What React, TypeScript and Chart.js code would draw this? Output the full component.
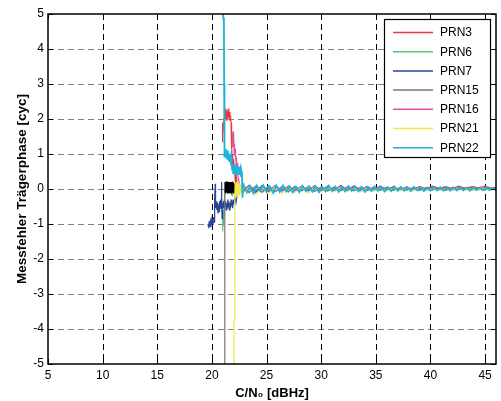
import React, { useEffect, useRef } from "react";
import { Chart, registerables } from "chart.js";

Chart.register(...registerables);

const FONT = "'Liberation Sans', Arial, Helvetica, sans-serif";

const X_MIN = 5;
const X_MAX = 46;
const Y_MIN = -5;
const Y_MAX = 5;
const X_TICKS = [5, 10, 15, 20, 25, 30, 35, 40, 45];
const Y_TICKS = [-5, -4, -3, -2, -1, 0, 1, 2, 3, 4, 5];

const SERIES_NAMES = ["PRN3", "PRN6", "PRN7", "PRN15", "PRN16", "PRN21", "PRN22"];
const SERIES_COLORS = ["#e8393f", "#5cc27f", "#2a4699", "#777777", "#e2509f", "#f2e64a", "#1cb4da"];
const SERIES_WIDTHS = [1.2, 1.2, 1.2, 1.2, 1.2, 1.2, 1.8];

// ---- low C/N0 part of each trace ----
const PRN3_X = [20.93, 20.95, 20.97, 20.99, 21.01, 21.03, 21.1, 21.18, 21.22, 21.26,
  21.3, 21.34, 21.38, 21.42, 21.46, 21.5, 21.55, 21.6, 21.65, 21.7,
  21.75, 21.8, 21.84, 21.88, 21.92, 21.96, 22.0, 22.04, 22.08, 22.12,
  22.16, 22.2, 22.25, 22.3, 22.4, 22.5, 22.6];
const PRN3_Y = [1.35, 1.9, 1.4, 1.85, 1.5, 1.7, 1.95, 2.15, 2.0, 2.3,
  2.05, 2.25, 1.95, 2.2, 2.0, 2.3, 2.05, 2.2, 1.95, 2.1,
  1.9, 1.2, 1.0, 0.7, 0.95, 0.6, 0.85, 0.55, 0.7, 0.3,
  0.5, 0.15, 0.3, 0.05, 0.12, -0.05, 0.08];

const PRN6_X = [20.95, 20.97, 20.99, 21.01, 21.03, 21.05, 21.07, 21.09, 21.11, 21.13,
  21.16, 21.2, 21.25, 21.3, 21.4, 21.5, 21.6, 21.7, 21.8, 21.9,
  22.0, 22.1, 22.2, 22.3, 22.4, 22.5, 22.6];
const PRN6_Y = [-1.2, -0.95, -1.15, -0.85, -1.05, -0.75, -0.9, -0.6, -0.75, -0.45,
  -0.3, -0.1, 0.05, -0.05, 0.08, -0.06, 0.1, -0.08, 0.05, -0.1,
  0.07, -0.05, 0.09, -0.07, 0.06, -0.08, 0.05];

const PRN7_X = [19.65, 19.7, 19.75, 19.8, 19.85, 19.9, 19.95, 20.0, 20.05, 20.1,
  20.15, 20.2, 20.22, 20.25, 20.28, 20.3, 20.32, 20.35, 20.4, 20.45,
  20.5, 20.55, 20.6, 20.65, 20.7, 20.75, 20.8, 20.85, 20.88, 20.9,
  20.93, 20.96, 21.0, 21.05, 21.1, 21.15, 21.2, 21.25, 21.3, 21.35,
  21.4, 21.45, 21.5, 21.55, 21.6, 21.65, 21.7, 21.75, 21.8, 21.85,
  21.9, 21.95, 22.0, 22.1, 22.2, 22.3, 22.4, 22.5, 22.6];
const PRN7_Y = [-1.0, -1.12, -0.92, -1.08, -0.95, -1.1, -0.9, -1.02, -0.85, -1.0,
  -0.8, -0.95, -0.5, -0.7, -0.3, 0.15, -0.4, -0.55, -0.35, -0.6,
  -0.4, -0.7, -0.45, -0.65, -0.35, -0.55, -0.3, -0.5, 0.2, -0.2,
  -0.85, -0.4, -0.6, -0.35, -0.55, -0.3, -0.5, -0.35, -0.6, -0.4,
  -0.55, -0.3, -0.5, -0.35, -0.6, -0.4, -0.55, -0.3, -0.5, -0.35,
  -0.55, -0.3, -0.45, -0.25, -0.4, -0.2, 0.05, -0.1, 0.06];

const PRN15_X = [21.17, 21.17, 21.19,
  21.2, 21.23, 21.26, 21.29, 21.32, 21.35, 21.38, 21.41, 21.44, 21.47,
  21.5, 21.53, 21.56, 21.59, 21.62, 21.65, 21.68, 21.71, 21.74, 21.77,
  21.8, 21.83, 21.86, 21.89, 21.92, 21.95, 21.98, 22.01, 22.04, 22.07,
  22.1, 22.13, 22.16, 22.19,
  22.3, 22.45, 22.6];
const PRN15_Y = [-5.5, -1.0, -0.1,
  0.2, -0.1, 0.18, -0.12, 0.22, -0.08, 0.19, -0.11, 0.2, -0.1,
  0.17, -0.12, 0.21, -0.09, 0.18, -0.1, 0.2, -0.11, 0.19, -0.08,
  0.2, -0.12, 0.17, -0.1, 0.21, -0.09, 0.18, -0.11, 0.15, -0.08,
  0.12, -0.1, 0.1, -0.05,
  0.08, -0.06, 0.05];

const PRN16_X = [21.85, 21.88, 21.91, 21.94, 21.97, 22.0, 22.03, 22.06, 22.09, 22.12,
  22.15, 22.18, 22.21, 22.24, 22.27, 22.3, 22.34, 22.38, 22.42, 22.46,
  22.5, 22.55, 22.6];
const PRN16_Y = [1.2, 1.6, 1.3, 1.65, 1.35, 1.55, 1.1, 1.3, 0.95, 1.15,
  0.85, 1.0, 0.8, 0.9, 0.6, 0.75, 0.45, 0.55, 0.25, 0.3,
  0.05, 0.1, -0.05];

const PRN21_X = [22.01, 22.01, 22.1, 22.1,
  22.12, 22.15, 22.18, 22.21, 22.24, 22.27, 22.3, 22.33, 22.36, 22.39,
  22.42, 22.45, 22.48, 22.51, 22.54, 22.57, 22.6, 22.63, 22.66, 22.69, 22.72];
const PRN21_Y = [-5.5, -3.8, -3.75, -0.2,
  0.18, -0.2, 0.15, -0.22, 0.2, -0.18, 0.16, -0.2, 0.12, -0.16,
  0.18, -0.14, 0.15, -0.18, 0.1, -0.15, 0.12, -0.1, 0.08, -0.12, 0.05];

const PRN22_X = [20.96, 20.98, 21.05, 21.1, 21.12, 21.13, 21.15, 21.18, 21.22, 21.26,
  21.3, 21.34, 21.38, 21.42, 21.46, 21.5, 21.55, 21.6, 21.65, 21.7,
  21.75, 21.8, 21.85, 21.9, 21.95, 22.0, 22.05, 22.1, 22.15, 22.2,
  22.25, 22.3, 22.35, 22.4, 22.45, 22.5, 22.55, 22.6, 22.65, 22.7,
  22.75, 22.8, 22.85];
const PRN22_Y = [5.4, 5.0, 4.9, 4.75, 3.0, 2.0, 1.3, 0.9, 1.15, 0.9,
  1.1, 0.85, 1.05, 0.9, 1.1, 0.85, 1.0, 0.8, 1.0, 0.85,
  0.95, 0.7, 0.55, 0.7, 0.45, 0.65, 0.5, 0.7, 0.45, 0.6,
  0.4, 0.55, 0.45, 0.65, 0.4, 0.6, 0.45, 0.55, 0.35, 0.5,
  0.4, -0.25, 0.15];

// ---- high C/N0 part (converged band) ----
const BAND_X_FINE = [22.9, 23.2, 23.5, 23.8, 24.1, 24.4, 24.7, 25.0, 25.3, 25.6,
  25.9, 26.2, 26.5, 26.8, 27.1, 27.4, 27.7, 28.0, 28.3, 28.6,
  28.9, 29.2, 29.5, 29.8, 30.1, 30.4, 30.7, 31.0, 31.3, 31.6,
  31.9, 32.2, 32.5, 32.8, 33.1, 33.4, 33.7, 34.0, 34.3, 34.6,
  34.9, 35.2, 35.5, 35.8, 36.1, 36.4, 36.7, 37.0, 37.3, 37.6,
  37.9, 38.2, 38.5, 38.8, 39.1, 39.4, 39.7, 40.0, 40.3, 40.6,
  40.9, 41.2, 41.5, 41.8, 42.1, 42.4, 42.7, 43.0, 43.3, 43.6,
  43.9, 44.2, 44.5, 44.8, 45.1, 45.4, 45.7, 46.0];
const BAND_X_COARSE = [22.8, 23.4, 24.0, 24.6, 25.2, 25.8, 26.4, 27.0, 27.6, 28.2,
  28.8, 29.4, 30.0, 30.6, 31.2, 31.8, 32.4, 33.0, 33.6, 34.2,
  34.8, 35.4, 36.0, 36.6, 37.2, 37.8, 38.4, 39.0, 39.6, 40.2,
  40.8, 41.4, 42.0, 42.6, 43.2, 43.8, 44.4, 45.0, 45.6, 46.2];

const PRN3_BAND = [-0.08, 0.1, -0.06, 0.09, -0.07, 0.08, -0.05, 0.07, -0.06, 0.08,
  -0.04, 0.06, -0.05, 0.07, -0.04, 0.06, -0.03, 0.05, -0.04, 0.06,
  -0.03, 0.05, -0.02, 0.06, -0.03, 0.05, -0.02, 0.07, 0.0, 0.08,
  0.02, 0.07, 0.01, 0.08, 0.02, 0.07, 0.03, 0.08, 0.02, 0.06];
const PRN6_BAND = [0.09, -0.11, 0.07, -0.08, 0.1, -0.07, 0.06, -0.09, 0.07, -0.05,
  0.06, -0.07, 0.05, -0.06, 0.04, -0.05, 0.06, -0.04, 0.05, -0.05,
  0.04, -0.04, 0.05, -0.03, 0.04, -0.04, 0.03, -0.04, 0.04, -0.03,
  0.03, -0.03, 0.04, -0.02, 0.03, -0.03, 0.02, -0.03, 0.03, -0.02];
const PRN7_BAND = [-0.12, 0.08, -0.1, 0.09, -0.07, 0.1, -0.06, 0.08, -0.05, 0.07,
  -0.06, 0.09, -0.04, 0.08, -0.05, 0.1, -0.04, 0.09, -0.03, 0.07,
  -0.04, 0.08, -0.03, 0.06, -0.04, 0.05, -0.03, 0.05, -0.03, 0.04,
  -0.02, 0.04, -0.03, 0.03, -0.02, 0.04, -0.02, 0.03, -0.02, 0.03];
const PRN15_BAND = [0.1, -0.09, 0.08, -0.1, 0.07, -0.08, 0.06, -0.07, 0.08, -0.05,
  0.06, -0.06, 0.05, -0.05, 0.06, -0.04, 0.05, -0.05, 0.04, -0.04,
  0.05, -0.03, 0.04, -0.04, 0.03, -0.03, 0.04, -0.03, 0.03, -0.02,
  0.03, -0.03, 0.02, -0.02, 0.03, -0.02, 0.02, -0.02, 0.02, -0.01];
const PRN16_BAND = [-0.07, 0.11, -0.05, 0.09, -0.06, 0.08, -0.04, 0.07, -0.05, 0.06,
  -0.03, 0.07, -0.04, 0.06, -0.03, 0.08, -0.02, 0.09, -0.03, 0.07,
  -0.02, 0.05, -0.03, 0.04, -0.02, 0.05, -0.02, 0.04, -0.03, 0.04,
  -0.02, 0.03, -0.02, 0.04, -0.01, 0.03, -0.02, 0.03, -0.01, 0.02];
const PRN21_BAND = [-0.14, 0.06, -0.16, 0.05, -0.12, 0.07, -0.13, 0.04, -0.1, 0.06,
  -0.11, 0.05, -0.09, 0.04, -0.08, 0.05, -0.07, 0.03, -0.08, 0.04,
  -0.06, 0.03, -0.06, 0.03, -0.05, 0.02, -0.05, 0.03, -0.04, 0.02,
  -0.05, 0.02, -0.04, 0.02, -0.03, 0.01, -0.04, 0.02, -0.03, 0.01];
const PRN22_BAND = [0.12, -0.1, 0.08, -0.12, 0.1, -0.06, 0.11, -0.09, 0.07, -0.11,
  0.09, -0.08, 0.1, -0.07, 0.08, -0.1, 0.06, -0.09, 0.09, -0.06,
  0.08, -0.08, 0.07, -0.09, 0.06, -0.07, 0.09, -0.06, 0.07, -0.08,
  0.06, -0.07, 0.08, -0.05, 0.07, -0.07, 0.06, -0.08, 0.05, -0.06,
  0.07, -0.05, 0.06, -0.07, 0.05, -0.06, 0.07, -0.05, 0.06, -0.05,
  0.05, -0.06, 0.06, -0.04, 0.05, -0.06, 0.04, -0.05, 0.06, -0.04,
  0.05, -0.05, 0.04, -0.05, 0.05, -0.04, 0.05, -0.04, 0.04, -0.05,
  0.05, -0.03, 0.04, -0.04, 0.05, -0.03, 0.04, -0.04];

type Pt = { x: number; y: number };
const buildPoints = (hx: number[], hy: number[], bx: number[], by: number[]): Pt[] => [
  ...hx.map((x, i) => ({ x, y: hy[i] })),
  ...bx.map((x, i) => ({ x, y: by[i] })),
];

const SERIES_POINTS: Pt[][] = [
  buildPoints(PRN3_X, PRN3_Y, BAND_X_COARSE, PRN3_BAND),
  buildPoints(PRN6_X, PRN6_Y, BAND_X_COARSE, PRN6_BAND),
  buildPoints(PRN7_X, PRN7_Y, BAND_X_COARSE, PRN7_BAND),
  buildPoints(PRN15_X, PRN15_Y, BAND_X_COARSE, PRN15_BAND),
  buildPoints(PRN16_X, PRN16_Y, BAND_X_COARSE, PRN16_BAND),
  buildPoints(PRN21_X, PRN21_Y, BAND_X_COARSE, PRN21_BAND),
  buildPoints(PRN22_X, PRN22_Y, BAND_X_FINE, PRN22_BAND),
];

const framePlugin = {
  id: "matlabFrame",
  beforeDatasetsDraw(chart: any) {
    const { ctx, chartArea: a, scales } = chart;
    const xs = scales.x;
    const ys = scales.y;
    ctx.save();
    ctx.setLineDash([6, 4]);
    ctx.lineWidth = 1;
    ctx.strokeStyle = "#808080";
    for (const v of Y_TICKS) {
      if (v === Y_MIN || v === Y_MAX) continue;
      const py = Math.round(ys.getPixelForValue(v)) + 0.5;
      ctx.beginPath();
      ctx.moveTo(a.left, py);
      ctx.lineTo(a.right, py);
      ctx.stroke();
    }
    ctx.strokeStyle = "#000";
    for (const v of X_TICKS) {
      if (v === X_MIN || v === X_MAX) continue;
      const px = Math.round(xs.getPixelForValue(v)) + 0.5;
      ctx.beginPath();
      ctx.moveTo(px, a.top);
      ctx.lineTo(px, a.bottom);
      ctx.stroke();
    }
    ctx.restore();
  },
  afterDatasetsDraw(chart: any) {
    const { ctx, chartArea: a, scales, data } = chart;
    const xs = scales.x;
    const ys = scales.y;
    ctx.save();
    ctx.setLineDash([]);
    ctx.strokeStyle = "#000";
    ctx.lineWidth = 1;
    const tl = 5;
    for (const v of X_TICKS) {
      const px = Math.round(xs.getPixelForValue(v)) + 0.5;
      ctx.beginPath();
      ctx.moveTo(px, a.bottom);
      ctx.lineTo(px, a.bottom - tl);
      ctx.moveTo(px, a.top);
      ctx.lineTo(px, a.top + tl);
      ctx.stroke();
    }
    for (const v of Y_TICKS) {
      const py = Math.round(ys.getPixelForValue(v)) + 0.5;
      ctx.beginPath();
      ctx.moveTo(a.left, py);
      ctx.lineTo(a.left + tl, py);
      ctx.moveTo(a.right, py);
      ctx.lineTo(a.right - tl, py);
      ctx.stroke();
    }
    ctx.lineWidth = 1.5;
    ctx.strokeRect(a.left, a.top, a.right - a.left, a.bottom - a.top);

    // legend box inside plot (north-east)
    const bw = 106;
    const bh = 138;
    const bx = a.right - 6 - bw;
    const by = a.top + 5;
    ctx.fillStyle = "#fff";
    ctx.fillRect(bx, by, bw, bh);
    ctx.lineWidth = 1.2;
    ctx.strokeStyle = "#000";
    ctx.strokeRect(bx + 0.5, by + 0.5, bw, bh);
    ctx.font = `12px ${FONT}`;
    ctx.textBaseline = "middle";
    ctx.textAlign = "left";
    data.datasets.forEach((ds: any, i: number) => {
      const yy = by + 13.5 + i * 19.2;
      ctx.strokeStyle = ds.borderColor;
      ctx.lineWidth = 1.5;
      ctx.beginPath();
      ctx.moveTo(bx + 9, yy);
      ctx.lineTo(bx + 49, yy);
      ctx.stroke();
      ctx.fillStyle = "#000";
      ctx.fillText(ds.label, bx + 56, yy + 0.5);
    });
    ctx.restore();
  },
};

export default function App() {
  const canvasRef = useRef<HTMLCanvasElement | null>(null);

  useEffect(() => {
    const canvas = canvasRef.current;
    if (!canvas) return;
    Chart.defaults.font.family = FONT;
    const datasets = SERIES_NAMES.map((name, i) => ({
      label: name,
      data: SERIES_POINTS[i],
      borderColor: SERIES_COLORS[i],
      backgroundColor: SERIES_COLORS[i],
      borderWidth: SERIES_WIDTHS[i],
      pointRadius: 0,
      showLine: true,
      tension: 0,
      order: SERIES_NAMES.length - i,
      ...(name === "PRN15"
        ? {
            segment: {
              borderColor: (c: any) =>
                c.p0.parsed.x >= 21.19 && c.p1.parsed.x <= 22.2 && c.p0.parsed.y > -0.5
                  ? "#000"
                  : undefined,
            },
          }
        : {}),
    }));

    const chart = new Chart(canvas, {
      type: "scatter",
      data: { datasets },
      plugins: [framePlugin],
      options: {
        animation: false,
        responsive: false,
        devicePixelRatio: 1,
        layout: { padding: { top: 14, right: 5, left: 0, bottom: 0 } },
        plugins: { legend: { display: false }, tooltip: { enabled: false } },
        scales: {
          x: {
            type: "linear",
            min: X_MIN,
            max: X_MAX,
            afterBuildTicks: (s: any) => {
              s.ticks = X_TICKS.map((v) => ({ value: v }));
            },
            afterFit: (s: any) => {
              s.height = 37;
            },
            grid: { display: false, drawTicks: false },
            border: { display: false },
            ticks: {
              color: "#000",
              font: { size: 12, family: FONT },
              padding: 4,
              maxRotation: 0,
              autoSkip: false,
            },
            title: {
              display: true,
              text: "C/N\u2080 [dBHz]",
              color: "#000",
              font: { size: 13, weight: "bold", family: FONT },
              padding: { top: 0, bottom: 0 },
            },
          },
          y: {
            type: "linear",
            min: Y_MIN,
            max: Y_MAX,
            afterBuildTicks: (s: any) => {
              s.ticks = Y_TICKS.map((v) => ({ value: v }));
            },
            afterFit: (s: any) => {
              s.width = 48;
            },
            grid: { display: false, drawTicks: false },
            border: { display: false },
            ticks: {
              color: "#000",
              font: { size: 12, family: FONT },
              padding: 4,
            },
            title: {
              display: true,
              text: "Messfehler Trägerphase [cyc]",
              color: "#000",
              font: { size: 13.5, weight: "bold", family: FONT },
              padding: { top: 14, bottom: 0 },
            },
          },
        },
      } as any,
    });
    return () => chart.destroy();
  }, []);

  return (
    <div style={{ position: "absolute", left: 0, top: 0, width: 501, height: 401, background: "#fff" }}>
      <canvas ref={canvasRef} width={501} height={401} style={{ display: "block" }} />
    </div>
  );
}
